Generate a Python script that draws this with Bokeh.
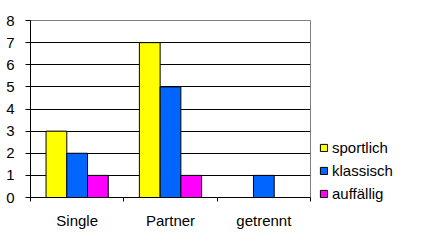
from bokeh.plotting import figure
from bokeh.models import Range1d, FixedTicker, Legend, LegendItem, ColumnDataSource
from bokeh.transform import dodge
from bokeh.embed import file_html
from bokeh.resources import INLINE

categories = ["Single", "Partner", "getrennt"]
sportlich = [3, 7, 0]
klassisch = [2, 5, 1]
auffaellig = [1, 1, 0]
series_names = ["sportlich", "klassisch", "auffällig"]
series_cols = ["sportlich", "klassisch", "auffaellig"]
colors = ["#FFFF00", "#0066FF", "#FF00FF"]
y_ticks = [0, 1, 2, 3, 4, 5, 6, 7, 8]

xpos = [i + 0.5 for i in range(len(categories))]
src = ColumnDataSource(dict(x=xpos, sportlich=sportlich, klassisch=klassisch, auffaellig=auffaellig))

FONT = "Liberation Sans"

p = figure(frame_width=280, frame_height=177, x_range=Range1d(0, len(categories)), y_range=Range1d(0, 8),
           output_backend="svg", toolbar_location=None,
           min_border_left=30, min_border_right=113, min_border_top=20, min_border_bottom=43)
p.background_fill_color = "white"
p.border_fill_color = "white"
p.outline_line_color = "#808080"
p.outline_line_width = 1

bw = 1 / 4.5
offsets = [-bw, 0, bw]
items = []
for name, col, color, off in zip(series_names, series_cols, colors, offsets):
    r = p.vbar(x=dodge("x", off), top=col, width=bw, bottom=0, source=src,
               fill_color=color, line_color="black", line_width=1)
    items.append(LegendItem(label=name, renderers=[r]))

# x axis
xa = p.xaxis[0]
xa.ticker = FixedTicker(ticks=xpos, minor_ticks=[float(i) for i in range(len(categories) + 1)])
xa.major_label_overrides = {x: c for x, c in zip(xpos, categories)}
xa.major_tick_out = 0
xa.major_tick_in = 0
xa.minor_tick_out = 4
xa.minor_tick_in = 0
xa.minor_tick_line_color = "black"
xa.axis_line_color = "black"
xa.major_label_text_font = FONT
xa.major_label_text_font_size = "15px"
xa.major_label_text_color = "black"
xa.major_label_standoff = 10

ya = p.yaxis[0]
ya.ticker = FixedTicker(ticks=y_ticks)
ya.major_tick_out = 5
ya.major_tick_in = 0
ya.minor_tick_out = 0
ya.minor_tick_in = 0
ya.axis_line_color = "black"
ya.major_tick_line_color = "black"
ya.major_label_text_font = FONT
ya.major_label_text_font_size = "15px"
ya.major_label_text_color = "black"
ya.major_label_standoff = 11

p.xgrid.visible = False
p.ygrid.ticker = FixedTicker(ticks=y_ticks[1:-1])
p.ygrid.grid_line_color = "black"
p.ygrid.grid_line_width = 1

legend = Legend(items=items, location=(9, -5))
legend.border_line_color = None
legend.background_fill_alpha = 0
legend.padding = 0
legend.margin = 0
legend.spacing = 5
legend.glyph_width = 9
legend.glyph_height = 9
legend.label_height = 18
legend.label_standoff = 4
legend.label_text_font = FONT
legend.label_text_font_size = "15px"
legend.label_text_color = "black"
p.add_layout(legend, "right")

open("out.html", "w").write(file_html(p, INLINE))
